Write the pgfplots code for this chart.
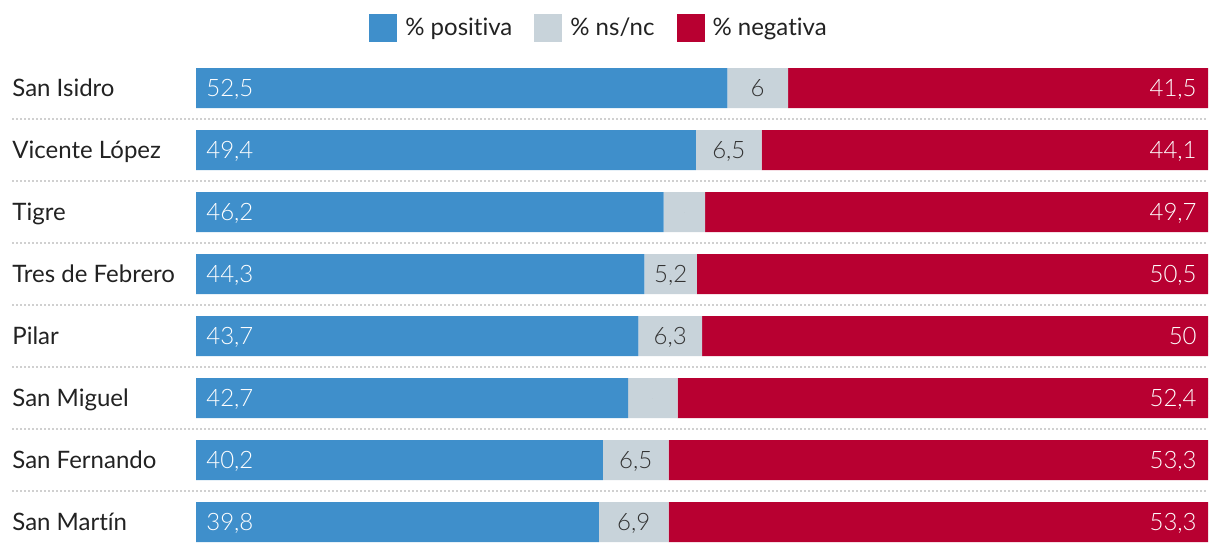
\documentclass[border=0pt]{standalone}
\usepackage{fontspec}
\setmainfont{Lato}[Ligatures=NoCommon]
\newfontfamily\lightfont{Lato Light}[Ligatures=NoCommon]
\usepackage{pgfplots}
\usepackage{pgfplotstable}
\pgfplotsset{compat=1.18}
\definecolor{cpos}{HTML}{3F8FCB}
\definecolor{cns}{HTML}{C8D3DA}
\definecolor{cneg}{HTML}{B80031}
\definecolor{ctxt}{HTML}{222222}
\definecolor{cdot}{HTML}{D0D0D0}
\definecolor{cnum}{HTML}{333333}

\pgfplotstableread{
y pos ns neg posl nsl negl
0 52.5 6.0 41.5 52,5 6 41,5
1 49.4 6.5 44.1 49,4 6,5 44,1
2 46.2 4.1 49.7 46,2 {} 49,7
3 44.3 5.2 50.5 44,3 5,2 50,5
4 43.7 6.3 50.0 43,7 6,3 50
5 42.7 4.9 52.4 42,7 {} 52,4
6 40.2 6.5 53.3 40,2 6,5 53,3
7 39.8 6.9 53.3 39,8 6,9 53,3
}\datatable

\pgfplotsset{myaxis/.style={
  at={(98pt,-28.5pt)}, anchor=north west,
  scale only axis, width=506pt, height=248pt,
  xmin=0, xmax=100, ymin=-0.5, ymax=7.5, y dir=reverse,
  clip=false,
}}
\newcommand{\lblfont}{\fontsize{12}{14}\selectfont}

\begin{document}
\begin{tikzpicture}
\useasboundingbox (0,0) rectangle (610pt,-277pt);
\begin{axis}[myaxis, xbar stacked, bar width=20pt,
  axis line style={draw=none}, xtick=\empty,
  ytick={0,...,7},
  yticklabels={San Isidro, Vicente López, Tigre, Tres de Febrero, Pilar, San Miguel, San Fernando, San Martín},
  ytick style={draw=none},
  yticklabel style={anchor=base west, inner sep=0pt, xshift=-92pt, yshift=-4.3pt, text=ctxt, font=\lblfont},
  legend style={at={(axis description cs:0.3992,1)}, anchor=center, yshift=14.5pt,
    draw=none, fill=none, font=\lblfont, text=ctxt,
    /tikz/every odd column/.append style={column sep=2pt},
    /tikz/every even column/.append style={column sep=9pt}},
  legend columns=3,
  legend image code/.code={\fill[#1] (0pt,-7pt) rectangle (14pt,7pt);},
]
\addplot[fill=cpos, draw=none] table[x=pos, y=y] {\datatable};
\addplot[fill=cns, draw=none] table[x=ns, y=y] {\datatable};
\addplot[fill=cneg, draw=none] table[x=neg, y=y] {\datatable};
\legend{\% positiva, \% ns/nc, \% negativa}
\pgfplotsinvokeforeach{0.5,1.5,2.5,3.5,4.5,5.5,6.5}{
  \draw[cdot, line width=1pt, dash pattern=on 1pt off 1pt] (axis cs:-18.18,#1) -- (axis cs:100,#1);
}
\end{axis}
\begin{axis}[myaxis, hide axis]
\addplot[only marks, mark=*, mark size=0pt, mark options={draw=none, fill=none},
  nodes near coords, point meta=explicit symbolic,
  nodes near coords style={anchor=base west, xshift=5pt, yshift=-4.3pt, inner sep=0pt, text=white, font=\lightfont\lblfont}]
  table[x expr=0, y=y, meta=posl] {\datatable};
\addplot[only marks, mark=*, mark size=0pt, mark options={draw=none, fill=none},
  nodes near coords, point meta=explicit symbolic,
  nodes near coords style={anchor=base, yshift=-4.3pt, inner sep=0pt, text=cnum, font=\lightfont\lblfont}]
  table[x expr=\thisrow{pos}+0.5*\thisrow{ns}, y=y, meta=nsl] {\datatable};
\addplot[only marks, mark=*, mark size=0pt, mark options={draw=none, fill=none},
  nodes near coords, point meta=explicit symbolic,
  nodes near coords style={anchor=base east, xshift=-5.5pt, yshift=-4.3pt, inner sep=0pt, text=white, font=\lightfont\lblfont}]
  table[x expr=100, y=y, meta=negl] {\datatable};
\end{axis}
\end{tikzpicture}
\end{document}
